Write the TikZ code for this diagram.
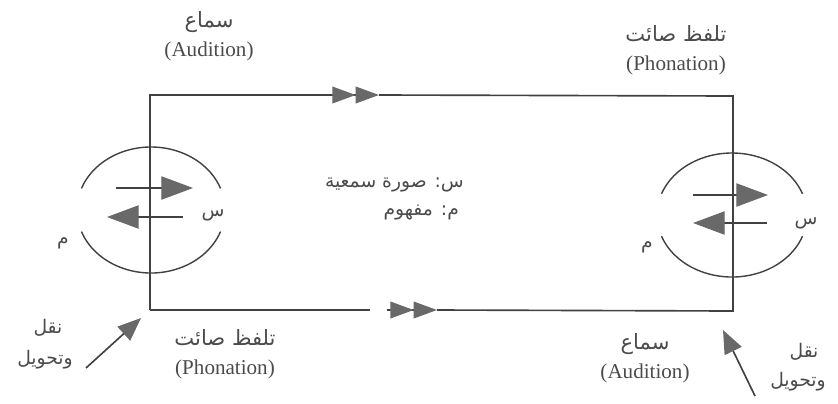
\documentclass[tikz,border=0pt]{standalone}
\usepackage{fontspec}
\setmainfont{Liberation Serif}
\newfontfamily\arabicfont[Script=Arabic]{DejaVu Sans}
\TeXXeTstate=1
\usetikzlibrary{arrows.meta, positioning}
\definecolor{linegray}{RGB}{65, 65, 65}
\definecolor{tipgray}{RGB}{105, 105, 105}
\definecolor{textgray}{RGB}{75, 75, 75}

\tikzset{
  frame/.style={linegray, line width=1.4pt},
  dbltip/.style={-{Triangle[length=7mm, width=5mm, color=tipgray]Triangle[length=7mm, width=5mm, color=tipgray]}},
  bigtip/.style={linegray, line width=0.9pt, -{Triangle[length=9.5mm, width=7mm, color=tipgray]}},
  transtip/.style={linegray, line width=1.4pt, -{Triangle[length=7mm, width=5.6mm, color=tipgray]}},
  ring/.style={linegray, line width=1.2pt},
  arlabel/.style={textgray, font=\arabicfont\fontsize{16}{19}\selectfont},
  duallabel/.style={textgray, align=center, font=\fontsize{18}{25}\selectfont},
}

\begin{document}
\begin{tikzpicture}[x=0.3mm, y=-0.3mm]
  \useasboundingbox (0,0) rectangle (838,403);

  % corners of the frame
  \coordinate (tl) at (150,95);
  \coordinate (tr) at (733,96);
  \coordinate (br) at (733,311);
  \coordinate (bl) at (150,310);
  \coordinate (toptip) at (379,95);
  \coordinate (botcut) at (370,310);
  \coordinate (botstart) at (387,310);
  \coordinate (bottip) at (437,310);

  % frame with the double arrows
  \draw[frame, dbltip] (bl) -- (tl) -- (toptip);
  \draw[frame] (toptip) -- (tr) -- (br) -- (bottip);
  \draw[frame] (bl) -- (botcut);
  \draw[frame, dbltip] (botstart) -- (bottip);

  % left ring
  \coordinate (lc) at (151,210);
  \draw[ring] ([shift={(20:22.2mm and 18.9mm)}]lc) arc[start angle=20, end angle=160, x radius=22.2mm, y radius=18.9mm];
  \draw[ring] ([shift={(200:22.2mm and 18.9mm)}]lc) arc[start angle=200, end angle=340, x radius=22.2mm, y radius=18.9mm];
  \coordinate (la1) at (116,188);
  \coordinate (lb1) at (193,188);
  \coordinate (la2) at (183,217);
  \coordinate (lb2) at (107,217);
  \draw[bigtip] (la1) -- (lb1);
  \draw[bigtip] (la2) -- (lb2);
  \node[arlabel] (lsin) at (213,215) {\beginR س\endR};
  \node[arlabel] (lmim) at (63,243) {\beginR م\endR};

  % right ring
  \coordinate (rc) at (732,215);
  \draw[ring] ([shift={(20:22.5mm and 18.6mm)}]rc) arc[start angle=20, end angle=160, x radius=22.5mm, y radius=18.6mm];
  \draw[ring] ([shift={(200:22.5mm and 18.6mm)}]rc) arc[start angle=200, end angle=340, x radius=22.5mm, y radius=18.6mm];
  \coordinate (ra1) at (693,195);
  \coordinate (rb1) at (768,195);
  \coordinate (ra2) at (767,223);
  \coordinate (rb2) at (693,223);
  \draw[bigtip] (ra1) -- (rb1);
  \draw[bigtip] (ra2) -- (rb2);
  \node[arlabel] (rsin) at (806,223) {\beginR س\endR};
  \node[arlabel] (rmim) at (647,247) {\beginR م\endR};

  % legend in the middle
  \node[arlabel, anchor=east] (keysin) at (468,185) {\beginR س: صورة سمعية\endR};
  \node[arlabel, anchor=east] (keymim) at (463,213) {\beginR م: مفهوم\endR};

  % labels of the four sides
  \node[duallabel] (audtop) at (209,36) {{\arabicfont\beginR سماع\endR}\\(Audition)};
  \node[duallabel] (phontop) at (676,50) {{\arabicfont\beginR تلفظ صائت\endR}\\(Phonation)};
  \node[duallabel] (phonbot) at (225,354) {{\arabicfont\beginR تلفظ صائت\endR}\\(Phonation)};
  \node[duallabel] (audbot) at (645,358) {{\arabicfont\beginR سماع\endR}\\(Audition)};

  % transfer notes
  \node[arlabel] (lnaql) at (48,328) {\beginR نقل\endR};
  \node[arlabel] (ltahwil) at (45,360) {\beginR وتحويل\endR};
  \node[arlabel] (rnaql) at (804,352) {\beginR نقل\endR};
  \node[arlabel] (rtahwil) at (798,382) {\beginR وتحويل\endR};
  \coordinate (ltail) at (86,368);
  \coordinate (lhead) at (141,318);
  \coordinate (rtail) at (755,396);
  \coordinate (rhead) at (723,330);
  \draw[transtip] (ltail) -- (lhead);
  \draw[transtip] (rtail) -- (rhead);
\end{tikzpicture}
\end{document}
